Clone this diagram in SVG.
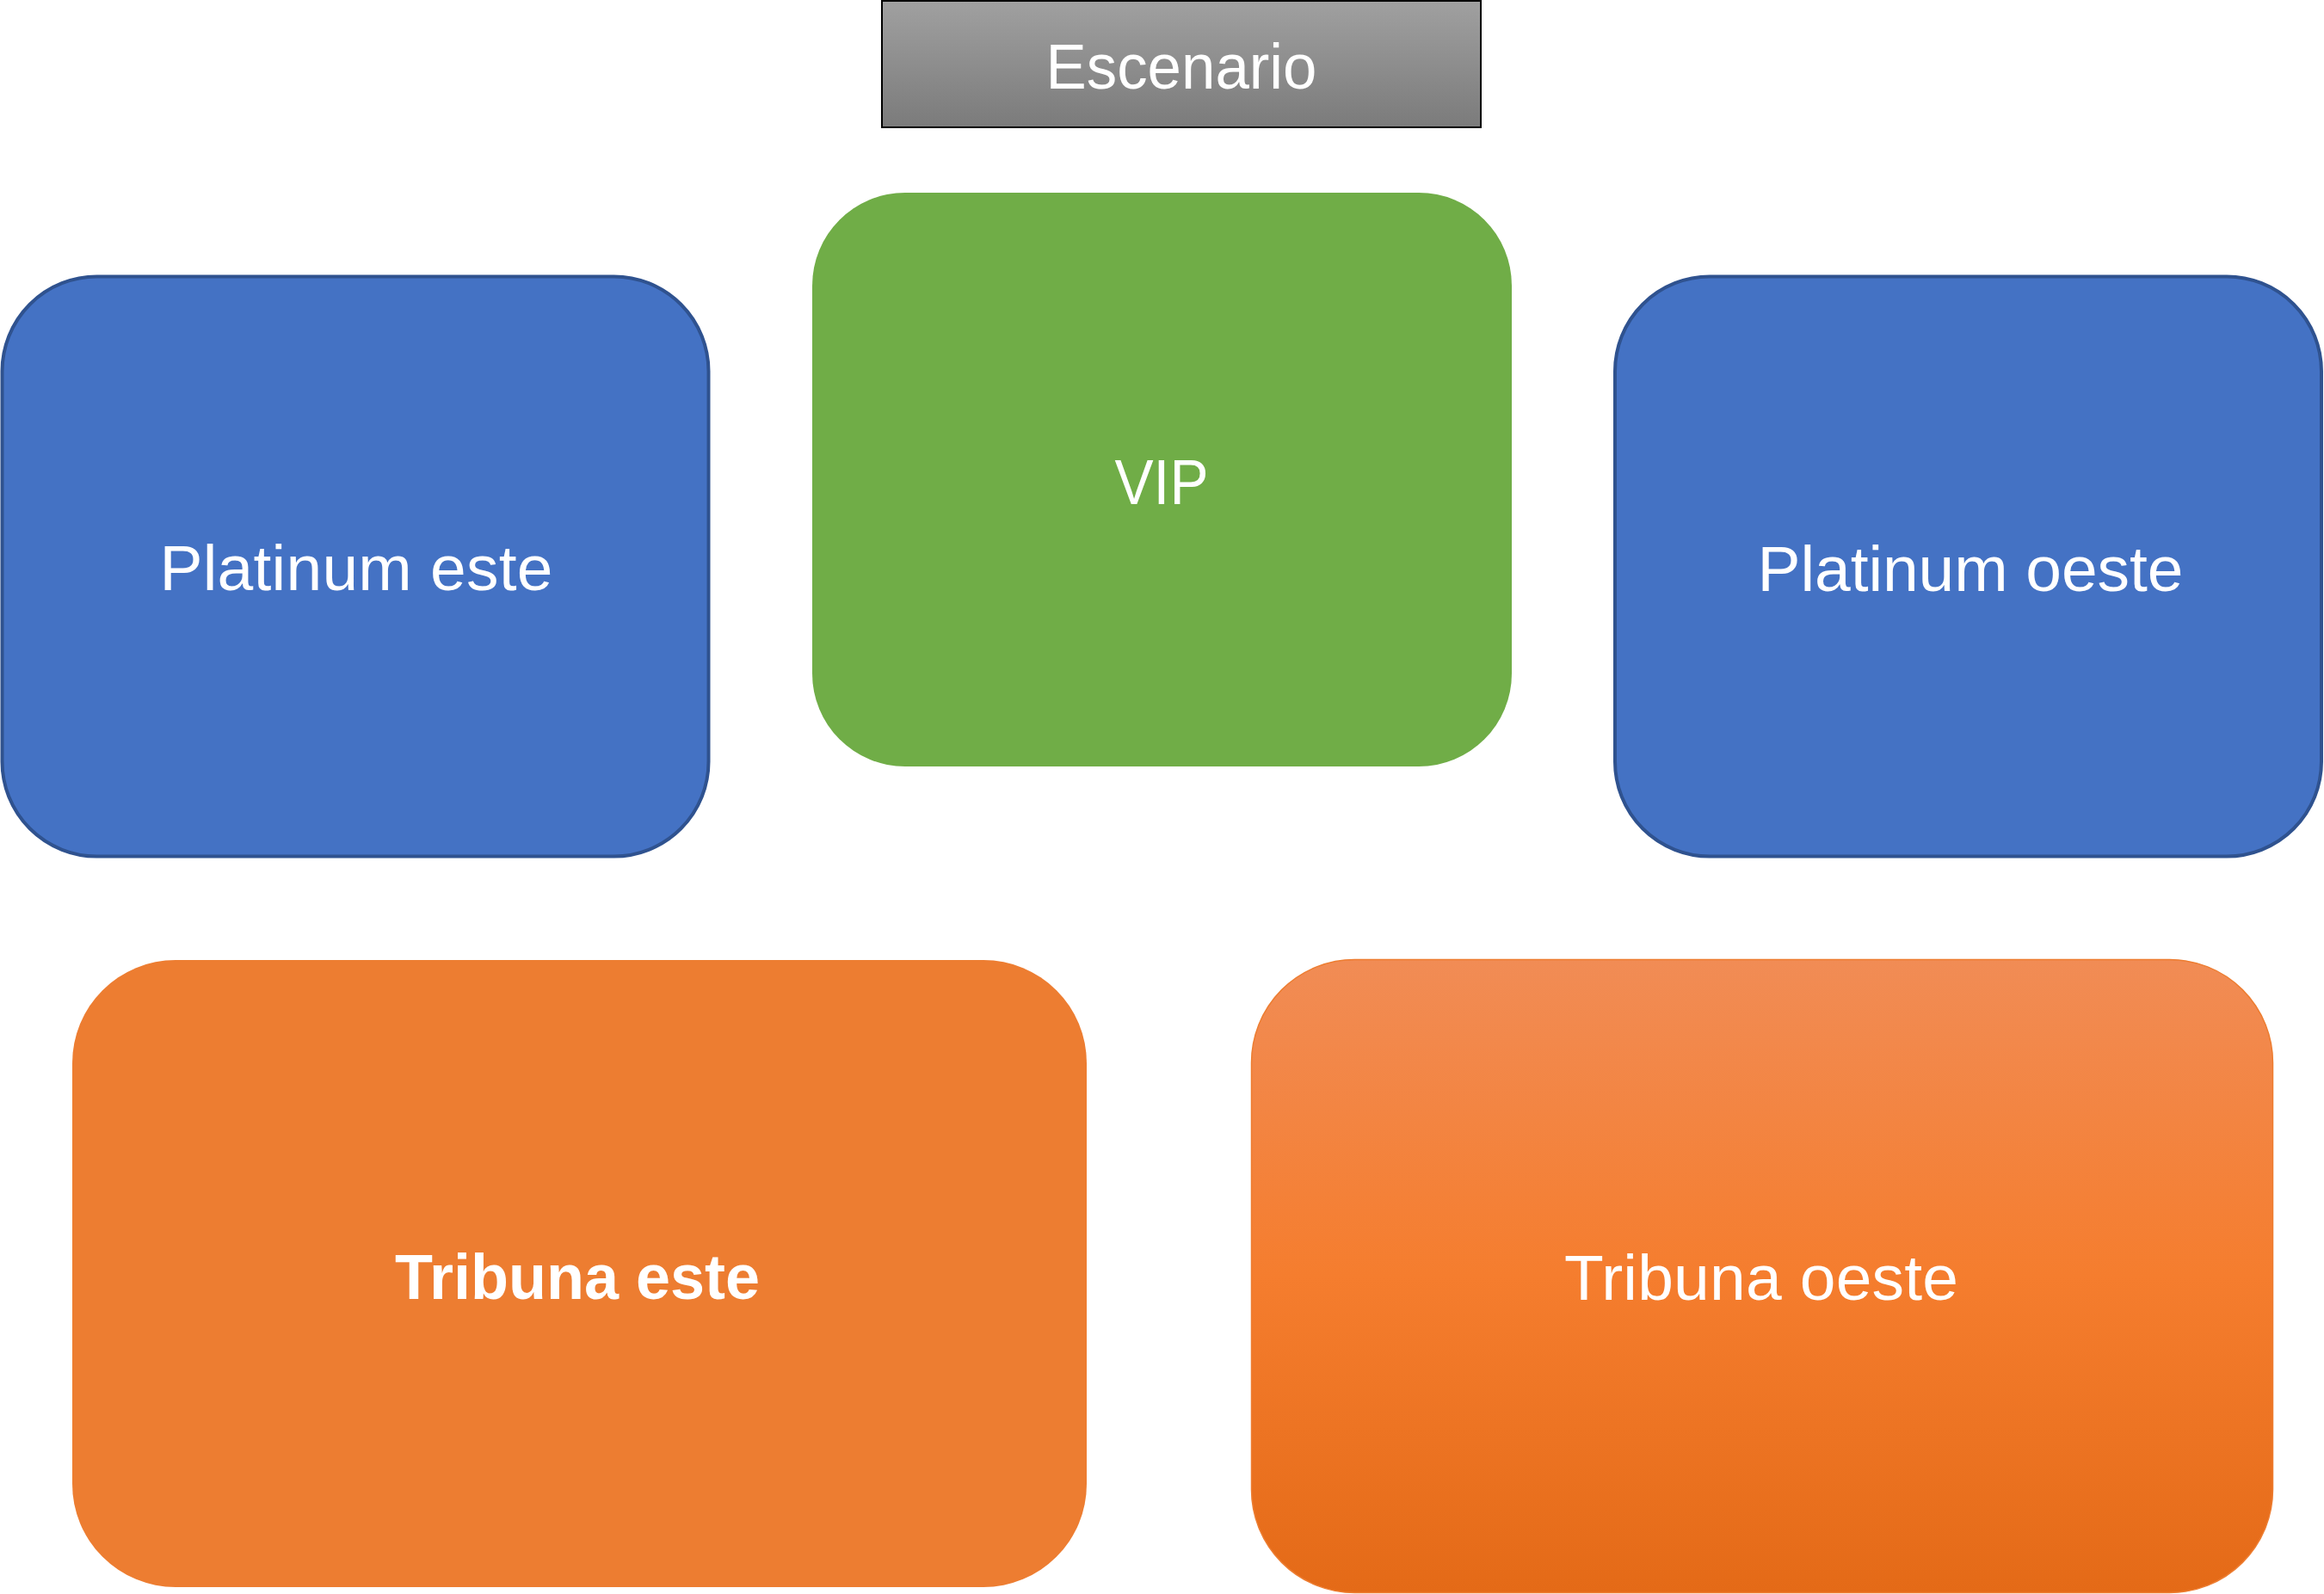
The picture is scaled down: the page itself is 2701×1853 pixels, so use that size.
<svg xmlns="http://www.w3.org/2000/svg" width="2701" height="1853" viewBox="0 0 2701 1853">
<defs>
<linearGradient id="gGray" x1="0" y1="0" x2="0" y2="1">
<stop offset="0" stop-color="#a0a0a0"/>
<stop offset="1" stop-color="#7b7b7b"/>
</linearGradient>
<linearGradient id="gOrange" x1="0" y1="0" x2="0" y2="1">
<stop offset="0" stop-color="#f18c55"/>
<stop offset="0.5" stop-color="#f57d2e"/>
<stop offset="1" stop-color="#e46a17"/>
</linearGradient>
</defs>
<style>
.lbl{font-family:"Liberation Sans",Arial,sans-serif;font-size:75px;fill:#ffffff;text-anchor:middle}
.bold{font-weight:bold}
.blue{fill:#4472c4;stroke:#2f528f;stroke-width:4}
</style>
<rect width="2701" height="1853" fill="#ffffff"/>
<g id="escenario">
<rect x="1025" y="1" width="696" height="147" fill="url(#gGray)" stroke="#000000" stroke-width="2"/>
<text class="lbl" x="1373" y="103" textLength="315" lengthAdjust="spacingAndGlyphs">Escenario</text>
</g>
<g id="platinum-este">
<rect class="blue" x="2.5" y="321.5" width="821" height="674" rx="110" ry="110"/>
<text class="lbl" x="414" y="686" textLength="457">Platinum este</text>
</g>
<g id="vip">
<rect x="944" y="224" width="813" height="667" rx="108" ry="108" fill="#70ad47"/>
<text class="lbl" x="1350" y="586" textLength="109" lengthAdjust="spacingAndGlyphs">VIP</text>
</g>
<g id="platinum-oeste">
<rect class="blue" x="1877" y="321.5" width="821" height="674" rx="110" ry="110"/>
<text class="lbl" x="2290" y="687" textLength="495">Platinum oeste</text>
</g>
<g id="tribuna-este">
<rect x="84" y="1116" width="1179" height="729" rx="120" ry="120" fill="#ed7d31"/>
<text class="lbl bold" x="671" y="1510" textLength="424" lengthAdjust="spacingAndGlyphs">Tribuna este</text>
</g>
<g id="tribuna-oeste">
<rect x="1454.5" y="1115.5" width="1187" height="736" rx="120" ry="120" fill="url(#gOrange)" stroke="#ed7d31" stroke-width="1.5"/>
<text class="lbl" x="2047" y="1511" textLength="458">Tribuna oeste</text>
</g>
<g id="connectors"></g>
</svg>
